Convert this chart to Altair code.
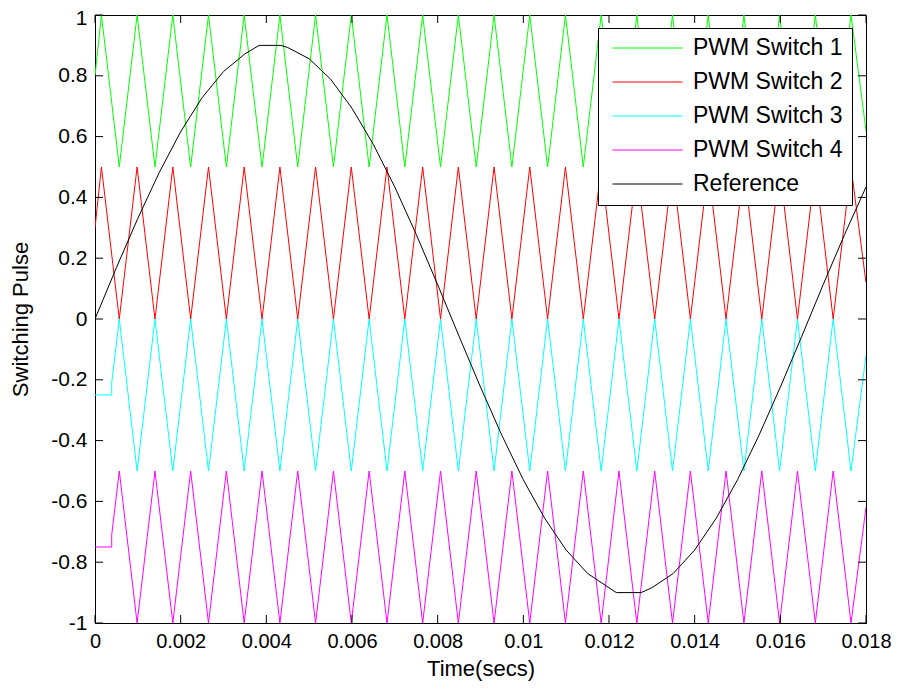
import altair as alt
import pandas as pd

# ---- data (time in ms) ----
carrier_t_ms = [0, 0.15, 0.567, 0.983, 1.4, 1.817, 2.233, 2.65, 3.067, 3.483, 3.9,
                4.317, 4.733, 5.15, 5.567, 5.983, 6.4, 6.817, 7.233, 7.65, 8.067,
                8.483, 8.9, 9.317, 9.733, 10.15, 10.567, 10.983, 11.4, 11.817, 12.233,
                12.65, 13.067, 13.483, 13.9, 14.317, 14.733, 15.15, 15.567, 15.983, 16.4,
                16.817, 17.233, 17.65, 18.0]

pwm1 = [0.8, 1.0, 0.5, 1.0, 0.5, 1.0, 0.5, 1.0, 0.5, 1.0, 0.5,
        1.0, 0.5, 1.0, 0.5, 1.0, 0.5, 1.0, 0.5, 1.0, 0.5,
        1.0, 0.5, 1.0, 0.5, 1.0, 0.5, 1.0, 0.5, 1.0, 0.5,
        1.0, 0.5, 1.0, 0.5, 1.0, 0.5, 1.0, 0.5, 1.0, 0.5,
        1.0, 0.5, 1.0, 0.62]

pwm2 = [0.3, 0.5, 0.0, 0.5, 0.0, 0.5, 0.0, 0.5, 0.0, 0.5, 0.0,
        0.5, 0.0, 0.5, 0.0, 0.5, 0.0, 0.5, 0.0, 0.5, 0.0,
        0.5, 0.0, 0.5, 0.0, 0.5, 0.0, 0.5, 0.0, 0.5, 0.0,
        0.5, 0.0, 0.5, 0.0, 0.5, 0.0, 0.5, 0.0, 0.5, 0.0,
        0.5, 0.0, 0.5, 0.12]

inv_t_ms = [0, 0.39, 0.39, 0.567, 0.983, 1.4, 1.817, 2.233, 2.65, 3.067, 3.483, 3.9,
            4.317, 4.733, 5.15, 5.567, 5.983, 6.4, 6.817, 7.233, 7.65, 8.067,
            8.483, 8.9, 9.317, 9.733, 10.15, 10.567, 10.983, 11.4, 11.817, 12.233,
            12.65, 13.067, 13.483, 13.9, 14.317, 14.733, 15.15, 15.567, 15.983, 16.4,
            16.817, 17.233, 17.65, 18.0]

pwm3 = [-0.25, -0.25, -0.21, 0.0, -0.5, 0.0, -0.5, 0.0, -0.5, 0.0, -0.5, 0.0,
        -0.5, 0.0, -0.5, 0.0, -0.5, 0.0, -0.5, 0.0, -0.5, 0.0,
        -0.5, 0.0, -0.5, 0.0, -0.5, 0.0, -0.5, 0.0, -0.5, 0.0,
        -0.5, 0.0, -0.5, 0.0, -0.5, 0.0, -0.5, 0.0, -0.5, 0.0,
        -0.5, 0.0, -0.5, -0.12]

pwm4 = [-0.75, -0.75, -0.71, -0.5, -1.0, -0.5, -1.0, -0.5, -1.0, -0.5, -1.0, -0.5,
        -1.0, -0.5, -1.0, -0.5, -1.0, -0.5, -1.0, -0.5, -1.0, -0.5,
        -1.0, -0.5, -1.0, -0.5, -1.0, -0.5, -1.0, -0.5, -1.0, -0.5,
        -1.0, -0.5, -1.0, -0.5, -1.0, -0.5, -1.0, -0.5, -1.0, -0.5,
        -1.0, -0.5, -1.0, -0.62]

ref_t_ms = [0, 0.5, 1.0, 1.5, 2.0, 2.5, 3.0, 3.5, 3.83, 4.34, 4.5, 5.0, 5.5, 6.0,
            6.5, 7.0, 7.5, 8.0, 8.5, 9.0, 9.5, 10.0, 10.5, 11.0, 11.5, 12.0,
            12.17, 12.75, 13.0, 13.5, 14.0, 14.5, 15.0, 15.5, 16.0, 16.5, 17.0,
            17.5, 18.0]
ref_v = [0.0, 0.169, 0.331, 0.482, 0.616, 0.728, 0.814, 0.872, 0.9, 0.9, 0.893,
         0.856, 0.789, 0.693, 0.574, 0.434, 0.278, 0.113, -0.057, -0.224, -0.383,
         -0.529, -0.656, -0.760, -0.837, -0.884, -0.9, -0.9, -0.884, -0.837,
         -0.760, -0.656, -0.529, -0.383, -0.224, -0.057, 0.113, 0.278, 0.434]

series_names = ["PWM Switch 1", "PWM Switch 2", "PWM Switch 3", "PWM Switch 4", "Reference"]
series_colors = ["#00FF00", "#FF0000", "#00FFFF", "#FF00FF", "#000000"]

x_ticks = [0, 0.002, 0.004, 0.006, 0.008, 0.01, 0.012, 0.014, 0.016, 0.018]
y_ticks = [-1, -0.8, -0.6, -0.4, -0.2, 0, 0.2, 0.4, 0.6, 0.8, 1]

# ---- build long table ----
rows = []
for name, ts, vs in [
    (series_names[0], carrier_t_ms, pwm1),
    (series_names[1], carrier_t_ms, pwm2),
    (series_names[2], inv_t_ms, pwm3),
    (series_names[3], inv_t_ms, pwm4),
    (series_names[4], ref_t_ms, ref_v),
]:
    for i, (t, v) in enumerate(zip(ts, vs)):
        rows.append({"t": t / 1000.0, "v": v, "series": name, "i": i})
df = pd.DataFrame(rows)

W, H = 771, 608
FONT = "Liberation Sans"
TICK = 8

xscale = alt.Scale(domain=[0, 0.018], nice=False, zero=False)
yscale = alt.Scale(domain=[-1, 1], nice=False, zero=False)

common = dict(ticks=False, tickSize=0, grid=False, labelExpr="toString(datum.value)",
              labelPadding=8, labelFlush=False, labelFont=FONT,
              labelColor="black", titleFont=FONT, titleFontSize=22, titleColor="black",
              titleFontWeight="normal", domainColor="black", domainWidth=1)

x_axis = alt.Axis(values=x_ticks, title="Time(secs)", titleY=45, labelFontSize=20,
                  titleBaseline="middle", **common)
y_axis = alt.Axis(values=y_ticks, title="Switching Pulse", titleX=-75, titleY=H / 2,
                  labelFontSize=21, titleBaseline="middle", titleAlign="center",
                  labelOffset={"condition": {"test": "datum.value == 1", "value": 3},
                               "value": 0},
                  **common)

lines = alt.Chart(df).mark_line(strokeWidth=1, clip=True).encode(
    x=alt.X("t:Q", scale=xscale, axis=x_axis),
    y=alt.Y("v:Q", scale=yscale, axis=y_axis),
    color=alt.Color("series:N",
                    scale=alt.Scale(domain=series_names, range=series_colors),
                    legend=alt.Legend(title=None, orient="none", legendX=503, legendY=13,
                                      symbolType="stroke", symbolSize=4900,
                                      symbolStrokeWidth=1, clipHeight=22,
                                      rowPadding=11, labelFontSize=23, labelFont=FONT,
                                      labelColor="black", labelOffset=10,
                                      symbolOffset=5, padding=9,
                                      strokeColor="black", fillColor="white",
                                      labelLimit=400)),
    order=alt.Order("i:Q"),
    detail="series:N",
)

xt = pd.DataFrame({"t": x_ticks})
yt = pd.DataFrame({"v": y_ticks})

bottom_ticks = alt.Chart(xt).mark_rule(color="black", strokeWidth=1).encode(
    x=alt.X("t:Q", scale=xscale, axis=x_axis),
    y=alt.value(H), y2=alt.value(H - TICK))
top_ticks = alt.Chart(xt).mark_rule(color="black", strokeWidth=1).encode(
    x=alt.X("t:Q", scale=xscale, axis=x_axis),
    y=alt.value(0), y2=alt.value(TICK))
left_ticks = alt.Chart(yt).mark_rule(color="black", strokeWidth=1).encode(
    y=alt.Y("v:Q", scale=yscale, axis=y_axis),
    x=alt.value(0), x2=alt.value(TICK))
right_ticks = alt.Chart(yt).mark_rule(color="black", strokeWidth=1).encode(
    y=alt.Y("v:Q", scale=yscale, axis=y_axis),
    x=alt.value(W), x2=alt.value(W - TICK))

chart = alt.layer(lines, bottom_ticks, top_ticks, left_ticks, right_ticks).properties(
    width=W, height=H,
    background="white",
    autosize=alt.AutoSizeParams(type="none"),
    padding={"left": 87, "top": 7, "right": 25, "bottom": 61},
).configure_view(
    stroke="black", strokeWidth=1
)

chart.save("out.html", embed_options={"renderer": "svg", "actions": False})
